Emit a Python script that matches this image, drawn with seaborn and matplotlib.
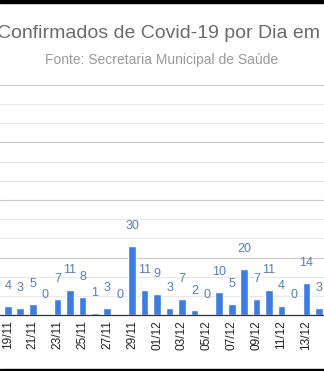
import matplotlib
matplotlib.use("Agg")
import matplotlib.pyplot as plt
from matplotlib.patches import Rectangle
from matplotlib.ticker import MultipleLocator
import seaborn as sns
import pandas as pd

# Daily confirmed cases
dates = ["19/11", "20/11", "21/11", "22/11", "23/11", "24/11", "25/11", "26/11",
         "27/11", "28/11", "29/11", "30/11", "01/12", "02/12", "03/12", "04/12",
         "05/12", "06/12", "07/12", "08/12", "09/12", "10/12", "11/12", "12/12",
         "13/12", "14/12"]
cases = [4, 3, 5, 0, 7, 11, 8, 1, 3, 0, 30, 11, 9, 3, 7, 2, 0, 10, 5, 20, 7, 11,
         4, 0, 14, 3]

title = "Confirmados de Covid-19 por Dia em"
subtitle = "Fonte: Secretaria Municipal de Saúde"

df = pd.DataFrame({"data": dates, "casos": cases})

sns.set_theme(style="white")
plt.rcParams["font.family"] = ["Liberation Sans", "DejaVu Sans"]

W, H = 324, 371
fig = plt.figure(figsize=(W / 100, H / 100), dpi=100)
ax = fig.add_axes([0, (H - 315) / H, 1, (315 - 85) / H])

sns.barplot(data=df, x="data", y="casos", order=dates, color="#3d7ddf",
            saturation=1, width=0.62, ax=ax)

ax.set_ylim(0, 100)
ax.set_xlim(-7.8 / 12.44, (W - 7.8) / 12.44)

# gridlines: major every 25, minor lines in between
ax.yaxis.set_major_locator(MultipleLocator(25))
ax.yaxis.set_minor_locator(MultipleLocator(100 / 12))
ax.grid(which="major", axis="y", color="#c8c8c8", linewidth=0.8)
ax.grid(which="minor", axis="y", color="#e8e8e8", linewidth=0.8)
ax.set_axisbelow(True)
ax.tick_params(axis="y", which="both", left=False, labelleft=False)

for s in ["top", "left", "right"]:
    ax.spines[s].set_visible(False)
ax.spines["bottom"].set_color("#333333")
ax.spines["bottom"].set_linewidth(0.9)

ax.set_xticks(range(0, len(dates), 2))
ax.set_xticklabels(dates[::2], rotation=90, fontsize=8.6, color="#222222")
ax.tick_params(axis="x", length=0, pad=3.5)
ax.set_xlabel("")
ax.set_ylabel("")

ax.bar_label(ax.containers[0], labels=[str(v) for v in cases], padding=10,
             fontsize=9, color="#5a7eb0")

fig.text(320 / W, (H - 38) / H, title, ha="right", va="baseline",
         fontsize=14, color="#6b6b6b")
fig.text(161.5 / W, (H - 64) / H, subtitle, ha="center", va="baseline",
         fontsize=10, color="#9a9a9a")

# dark frame edges at top and bottom
fig.add_artist(Rectangle((0, (H - 3) / H), 1, 3 / H, transform=fig.transFigure,
                         color="black", zorder=10))
fig.add_artist(Rectangle((0, 0), 1, 2 / H, transform=fig.transFigure,
                         color="black", zorder=10))

fig.savefig("out.png", dpi=100)
